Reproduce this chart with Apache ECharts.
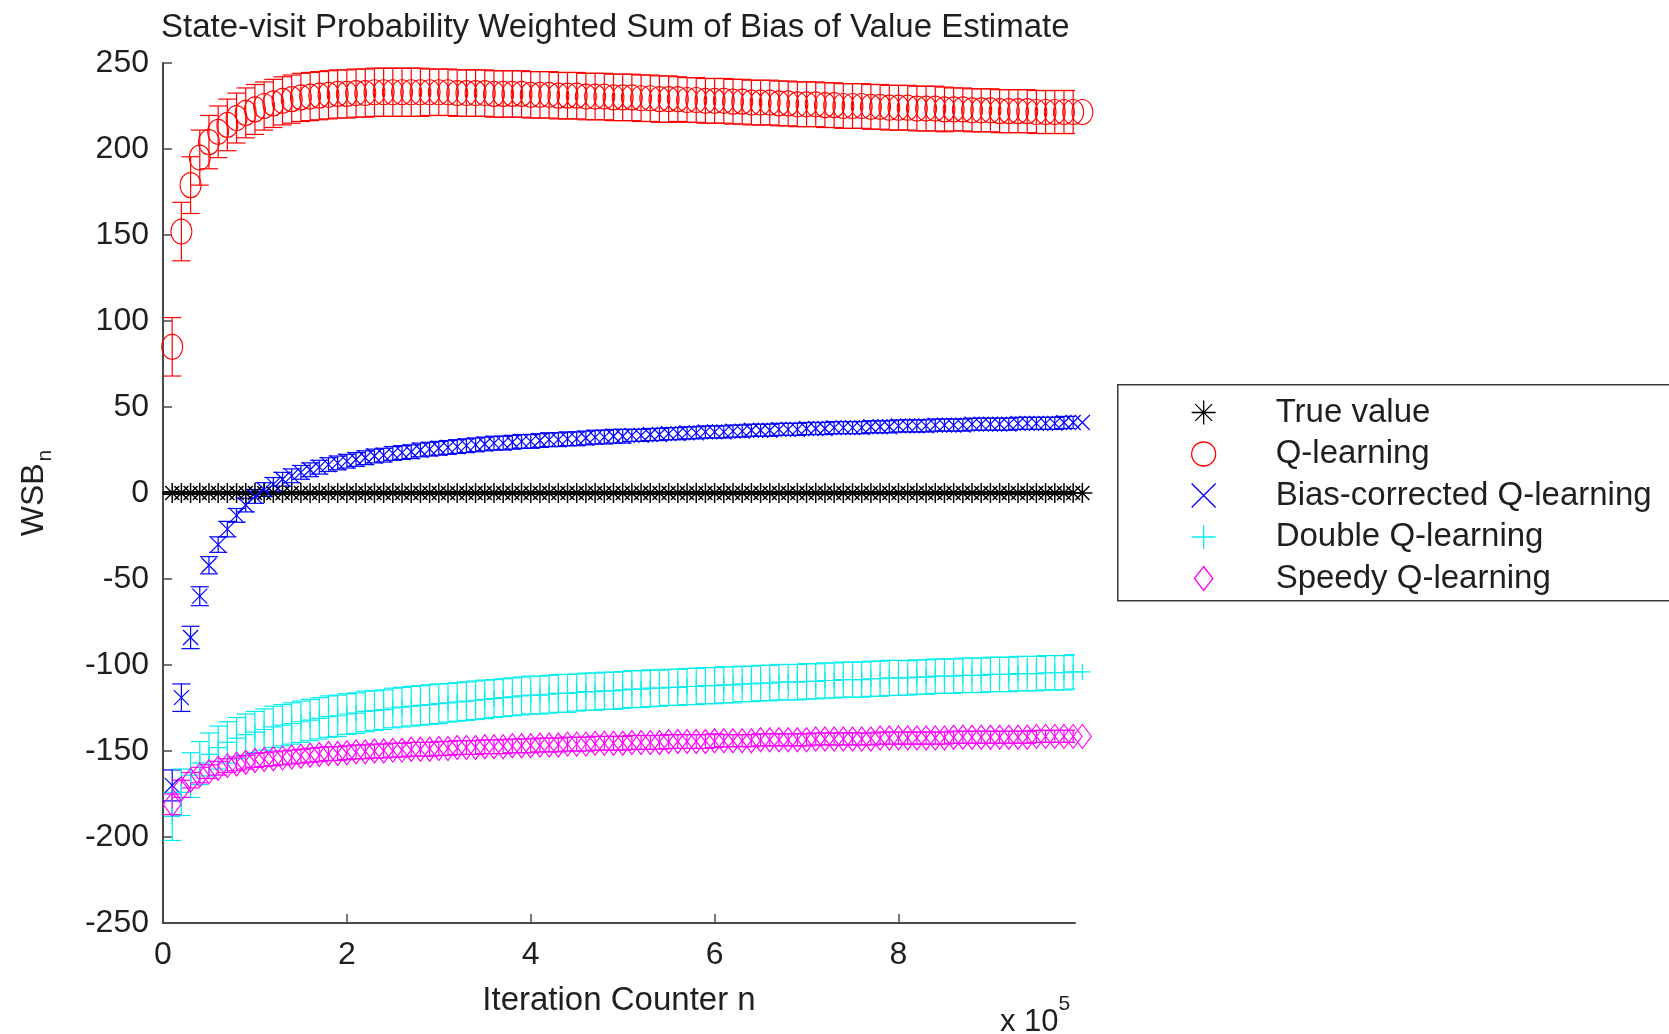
<!DOCTYPE html>
<html><head><meta charset="utf-8">
<script src="https://cdn.jsdelivr.net/npm/echarts@6/dist/echarts.min.js"></script>
<style>html,body{margin:0;padding:0;background:#fff}#c{width:1669px;height:1034px}</style>
</head><body><div id="c"></div>
<script>
// Iteration counter n, in units of 1e5
const iterations = [0.1,0.2,0.3,0.4,0.5,0.6,0.7,0.8,0.9,1.0,
 1.1,1.2,1.3,1.4,1.5,1.6,1.7,1.8,1.9,2.0,
 2.1,2.2,2.3,2.4,2.5,2.6,2.7,2.8,2.9,3.0,
 3.1,3.2,3.3,3.4,3.5,3.6,3.7,3.8,3.9,4.0,
 4.1,4.2,4.3,4.4,4.5,4.6,4.7,4.8,4.9,5.0,
 5.1,5.2,5.3,5.4,5.5,5.6,5.7,5.8,5.9,6.0,
 6.1,6.2,6.3,6.4,6.5,6.6,6.7,6.8,6.9,7.0,
 7.1,7.2,7.3,7.4,7.5,7.6,7.7,7.8,7.9,8.0,
 8.1,8.2,8.3,8.4,8.5,8.6,8.7,8.8,8.9,9.0,
 9.1,9.2,9.3,9.4,9.5,9.6,9.7,9.8,9.9,10.0];

const xTicks = [0, 2, 4, 6, 8];

const trueValue = [0,0,0,0,0,0,0,0,0,0, 0,0,0,0,0,0,0,0,0,0, 0,0,0,0,0,0,0,0,0,0, 0,0,0,0,0,0,0,0,0,0, 0,0,0,0,0,0,0,0,0,0,
 0,0,0,0,0,0,0,0,0,0, 0,0,0,0,0,0,0,0,0,0, 0,0,0,0,0,0,0,0,0,0, 0,0,0,0,0,0,0,0,0,0, 0,0,0,0,0,0,0,0,0,0];
const trueValueErr = [0.8,0.8,0.8,0.8,0.8,0.8,0.8,0.8,0.8,0.8, 0.8,0.8,0.8,0.8,0.8,0.8,0.8,0.8,0.8,0.8, 0.8,0.8,0.8,0.8,0.8,0.8,0.8,0.8,0.8,0.8, 0.8,0.8,0.8,0.8,0.8,0.8,0.8,0.8,0.8,0.8, 0.8,0.8,0.8,0.8,0.8,0.8,0.8,0.8,0.8,0.8,
 0.8,0.8,0.8,0.8,0.8,0.8,0.8,0.8,0.8,0.8, 0.8,0.8,0.8,0.8,0.8,0.8,0.8,0.8,0.8,0.8, 0.8,0.8,0.8,0.8,0.8,0.8,0.8,0.8,0.8,0.8, 0.8,0.8,0.8,0.8,0.8,0.8,0.8,0.8,0.8,0.8, 0.8,0.8,0.8,0.8,0.8,0.8,0.8,0.8,0.8,0.8];

const qLearning = [85,152,179,195,204,210,214,218,221,223,
 225,226.5,228,229,230,230.5,231,231.5,232,232,
 232.5,232.5,233,233,233,233,233,233,233,233,
 233,232.5,232.5,232.5,232.5,232,232,232,232,231.5,
 231.5,231.5,231,231,231,230.5,230.5,230.5,230,230,
 230,229.5,229.5,229,229,229,228.5,228.5,228,228,
 228,227.5,227.5,227,227,227,226.5,226.5,226,226,
 226,225.5,225.5,225,225,225,224.5,224.5,224,224,
 224,223.5,223.5,223.5,223,223,223,222.5,222.5,222.5,
 222,222,222,222,221.5,221.5,221.5,221.5,221.5,221.5];
const qLearningErr = [17,17,16.5,16,15.5,15,15,14.5,14.5,14.5,
 14,14,14,14,14,14,14,14,14,14,
 14,14,14,14,14,14,14,14,13.5,13.5,
 13.5,13.5,13.5,13.5,13.5,13.5,13.5,13.5,13.5,13.5,
 13.5,13.5,13.5,13.5,13.5,13.5,13.5,13.5,13.5,13.5,
 13.5,13.5,13.5,13.5,13.5,13,13,13,13,13,
 13,13,13,13,13,13,13,13,13,13,
 13,13,13,13,13,13,13,13,13,13,
 13,13,13,13,13,12.5,12.5,12.5,12.5,12.5,
 12.5,12.5,12.5,12.5,12.5,12.5,12.5,12.5,12.5,12.5];

const biasCorrected = [-170,-119,-84,-60,-42,-30,-21,-13,-7,-2,
 2,5,8,10,12,13.5,15,16.5,17.5,18.5,
 19.5,20.5,21.5,22,23,23.5,24,25,25.5,26,
 26.5,27,27.5,28,28.5,29,29,29.5,30,30,
 30.5,31,31,31.5,31.5,32,32.5,32.5,33,33,
 33.5,33.5,34,34,34.5,34.5,35,35,35.5,35.5,
 35.5,36,36,36.5,36.5,36.5,37,37,37,37.5,
 37.5,37.5,38,38,38,38,38.5,38.5,38.5,39,
 39,39,39,39.5,39.5,39.5,39.5,40,40,40,
 40,40,40.5,40.5,40.5,40.5,40.5,41,41,41];
const biasCorrectedErr = [9,8,6.5,5.5,5,4.5,4.5,4,4,4,
 4,4,4,4,4,4,4,4,4,4,
 4,4,4,4,4,4,4,4,4,4,
 4,4,4,4,4,4,4,4,4,4,
 4,4,4,4,4,4,4,4,4,4,
 3.5,3.5,3.5,3.5,3.5,3.5,3.5,3.5,3.5,3.5,
 3.5,3.5,3.5,3.5,3.5,3.5,3.5,3.5,3.5,3.5,
 3.5,3.5,3.5,3.5,3.5,3.5,3.5,3.5,3.5,3.5,
 3.5,3.5,3.5,3.5,3.5,3.5,3.5,3.5,3.5,3.5,
 3.5,3.5,3.5,3.5,3.5,3.5,3.5,3.5,3.5,3.5];

const doubleQ = [-188,-174,-164,-157,-152,-148,-145,-142.5,-140.5,-139,
 -137.5,-136,-135,-134,-133,-132,-131,-130,-129.5,-128.5,
 -128,-127,-126.5,-126,-125,-124.5,-124,-123.5,-123,-122.5,
 -122,-121.5,-121,-120.5,-120,-119.5,-119,-118.5,-118,-117.5,
 -117.5,-117,-116.5,-116.5,-116,-115.5,-115.5,-115,-115,-114.5,
 -114,-114,-113.5,-113.5,-113,-113,-112.5,-112.5,-112,-112,
 -111.5,-111.5,-111,-111,-110.5,-110.5,-110,-110,-110,-109.5,
 -109.5,-109,-109,-108.5,-108.5,-108.5,-108,-108,-107.5,-107.5,
 -107.5,-107,-107,-106.5,-106.5,-106.5,-106,-106,-106,-105.5,
 -105.5,-105.5,-105,-105,-105,-104.5,-104.5,-104.5,-104,-104];
const doubleQErr = [14,13.5,13,12.5,12.5,12.5,12,12,12,12,
 12,12,12,12,12,12,12,12,12,11.8,
 11.8,11.8,11.5,11.5,11.5,11.5,11.5,11.5,11.5,11.5,
 11.2,11.2,11.2,11.2,11.2,11,11,11,11,11,
 11,11,11,11,10.8,10.8,10.8,10.8,10.8,10.7,
 10.7,10.7,10.7,10.5,10.5,10.5,10.5,10.5,10.5,10.5,
 10.5,10.5,10.3,10.3,10.3,10.3,10.3,10.3,10.3,10.3,
 10.2,10.2,10.2,10.2,10.2,10.2,10.2,10.2,10.2,10.2,
 10,10,10,10,10,10,10,10,10,10,
 10,10,10,10,10,10,10,10,10,10];

const speedyQ = [-181,-172,-167,-164,-162,-160,-158.5,-157.5,-156.5,-155.5,
 -155,-154.5,-154,-153.5,-153,-152.5,-152,-151.5,-151.5,-151,
 -150.5,-150.5,-150,-150,-149.5,-149.5,-149,-149,-149,-148.5,
 -148.5,-148,-148,-148,-147.5,-147.5,-147.5,-147,-147,-147,
 -146.5,-146.5,-146.5,-146,-146,-146,-145.5,-145.5,-145.5,-145.5,
 -145,-145,-145,-145,-144.5,-144.5,-144.5,-144.5,-144.5,-144,
 -144,-144,-144,-144,-143.5,-143.5,-143.5,-143.5,-143.5,-143.5,
 -143,-143,-143,-143,-143,-143,-143,-142.5,-142.5,-142.5,
 -142.5,-142.5,-142.5,-142.5,-142.5,-142,-142,-142,-142,-142,
 -142,-142,-142,-142,-141.5,-141.5,-141.5,-141.5,-141.5,-141.5];
const speedyQErr = [6,5,4.5,4.5,4,4,4,4,4,4,
 4,4,4,4,4,4,4,4,4,4,
 4,4,4,4,4,4,4,4,4,4,
 4,4,4,4,4,4,4,4,4,4,
 4,4,4,4,4,4,4,4,4,4,
 4,4,4,4,4,4,4,4,4,4,
 3.5,3.5,3.5,3.5,3.5,3.5,3.5,3.5,3.5,3.5,
 3.5,3.5,3.5,3.5,3.5,3.5,3.5,3.5,3.5,3.5,
 3.5,3.5,3.5,3.5,3.5,3.5,3.5,3.5,3.5,3.5,
 3.5,3.5,3.5,3.5,3.5,3.5,3.5,3.5,3.5,3.5];

const seriesNames = ['True value', 'Q-learning', 'Bias-corrected Q-learning', 'Double Q-learning', 'Speedy Q-learning'];

const FONT = "'Liberation Sans', Arial, Helvetica, sans-serif";
const TEXT = '#1f1f1f';
const AXIS = '#4a4a4a';
// MATLAB errorbar cap: (max(x)-min(x))/100 in data units
const capHalf = (iterations[iterations.length - 1] - iterations[0]) / 100;

function pts(vals) { return iterations.map((x, i) => [x, vals[i]]); }
function errPts(vals, errs) { return iterations.map((x, i) => [x, vals[i], errs[i]]); }

function errorSeries(vals, errs, color) {
  return {
    type: 'custom', name: 'err', clip: true, silent: true,
    data: errPts(vals, errs),
    encode: { x: 0, y: 1 },
    renderItem: function (params, api) {
      const x = api.value(0), y = api.value(1), e = api.value(2);
      const top = api.coord([x, y + e]);
      const bot = api.coord([x, y - e]);
      const l = api.coord([x - capHalf, y])[0];
      const r = api.coord([x + capHalf, y])[0];
      const st = { stroke: color, lineWidth: 1.2, fill: null };
      return { type: 'group', children: [
        { type: 'line', shape: { x1: top[0], y1: top[1], x2: bot[0], y2: bot[1] }, style: st },
        { type: 'line', shape: { x1: l, y1: top[1], x2: r, y2: top[1] }, style: st },
        { type: 'line', shape: { x1: l, y1: bot[1], x2: r, y2: bot[1] }, style: st }
      ]};
    }
  };
}

function markerSeries(name, vals, color, symbol, size, lw) {
  return {
    type: 'scatter', name: name, data: pts(vals), clip: false,
    symbol: symbol, symbolSize: size, silent: true,
    itemStyle: { color: 'rgba(0,0,0,0)', borderColor: color, borderWidth: lw, opacity: 1 }
  };
}

const SYM_AST = 'path://M10,0L10,20M0,10L20,10M3,3L17,17M3,17L17,3';
const SYM_X = 'path://M0,0L20,20M0,20L20,0';
const SYM_PLUS = 'path://M10,0L10,20M0,10L20,10';
const SYM_DIAMOND = 'path://M10,0L20,13L10,26L0,13Z';

const chart = echarts.init(document.getElementById('c'), null, { renderer: 'canvas' });
chart.setOption({
  animation: false,
  backgroundColor: '#ffffff',
  title: {
    text: 'State-visit Probability Weighted Sum of Bias of Value Estimate',
    left: 156, top: 6,
    textStyle: { fontFamily: FONT, fontSize: 33, fontWeight: 'normal', color: TEXT }
  },
  grid: { left: 163, top: 63, right: 594, bottom: 111, containLabel: false },
  xAxis: {
    type: 'value', min: 0, max: 9.92,
    name: 'Iteration Counter n', nameLocation: 'middle', nameGap: 61,
    nameTextStyle: { fontFamily: FONT, fontSize: 33, color: TEXT },
    axisLine: { show: true, onZero: false, lineStyle: { color: AXIS, width: 2 } },
    axisTick: { show: true, inside: true, length: 9, customValues: xTicks, lineStyle: { color: AXIS, width: 1.5 } },
    axisLabel: { customValues: xTicks, margin: 16, fontFamily: FONT, fontSize: 32, color: TEXT },
    splitLine: { show: false }
  },
  yAxis: {
    type: 'value', min: -250, max: 250, interval: 50,
    name: '{a|WSB}{b|n}', nameLocation: 'middle', nameGap: 107, nameRotate: 90,
    nameTextStyle: { rich: {
      a: { fontFamily: FONT, fontSize: 32, color: TEXT, lineHeight: 44, verticalAlign: 'middle' },
      b: { fontFamily: FONT, fontSize: 21, color: TEXT, lineHeight: 44, verticalAlign: 'bottom', padding: [0, 0, 0, 2] }
    }},
    axisLine: { show: true, lineStyle: { color: AXIS, width: 2 } },
    axisTick: { show: true, inside: true, length: 9, lineStyle: { color: AXIS, width: 1.5 } },
    axisLabel: { margin: 14, fontFamily: FONT, fontSize: 32, color: TEXT },
    splitLine: { show: false }
  },
  legend: {
    data: seriesNames,
    orient: 'vertical', left: 1191, top: 396,
    padding: 0,
    itemWidth: 134, itemHeight: 24, itemGap: 8.5,
    textStyle: { fontFamily: FONT, fontSize: 33, color: TEXT },
    itemStyle: { borderWidth: 1.3 },
    selectedMode: false
  },
  graphic: [{
    type: 'rect', left: 1117, top: 384, z: -1,
    shape: { width: 620, height: 216 },
    style: { fill: '#ffffff', stroke: '#3a3a3a', lineWidth: 1.5 }
  }, {
    type: 'text', left: 1000, top: 994,
    style: {
      text: '{a|x 10}{b|5}',
      rich: {
        a: { fontFamily: FONT, fontSize: 31, fill: TEXT, lineHeight: 44, verticalAlign: 'bottom' },
        b: { fontFamily: FONT, fontSize: 21, fill: TEXT, lineHeight: 44, verticalAlign: 'top' }
      }
    }
  }],
  series: [
    errorSeries(trueValue, trueValueErr, '#000000'),
    markerSeries(seriesNames[0], trueValue, '#000000', SYM_AST, 20, 1.5),
    errorSeries(qLearning, qLearningErr, '#ff0000'),
    markerSeries(seriesNames[1], qLearning, '#ff0000', 'circle', [21, 25], 1.1),
    errorSeries(biasCorrected, biasCorrectedErr, '#0000ff'),
    markerSeries(seriesNames[2], biasCorrected, '#0000ff', SYM_X, 15, 1.2),
    errorSeries(doubleQ, doubleQErr, '#00eeee'),
    markerSeries(seriesNames[3], doubleQ, '#00eeee', SYM_PLUS, 16, 1.2),
    errorSeries(speedyQ, speedyQErr, '#ff00ff'),
    markerSeries(seriesNames[4], speedyQ, '#ff00ff', SYM_DIAMOND, [18, 24], 1.2)
  ]
});
</script>
</body></html>
